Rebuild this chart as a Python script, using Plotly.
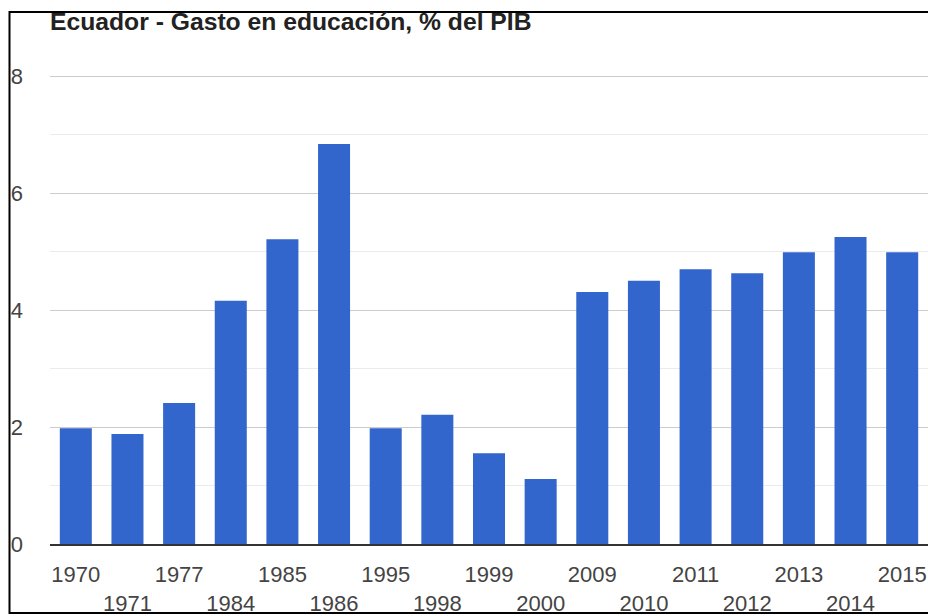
import plotly.graph_objects as go

years = ["1970", "1971", "1977", "1984", "1985", "1986", "1995", "1998", "1999",
         "2000", "2009", "2010", "2011", "2012", "2013", "2014", "2015"]
gasto = [1.98, 1.88, 2.41, 4.16, 5.21, 6.84, 1.98, 2.21, 1.55,
         1.11, 4.31, 4.50, 4.70, 4.63, 4.99, 5.25, 4.99]
y_ticks = [0, 2, 4, 6, 8]

# staggered labels: every second one goes to a second row
tick_text = [y if i % 2 == 0 else "<br>" + y for i, y in enumerate(years)]

W, H = 928, 616
L, R, T, B = 50, 0, 75, 72
pw, ph = W - L - R, H - T - B
y_top = 8.02
font = "Arial, Liberation Sans"

fig = go.Figure(go.Bar(x=years, y=gasto, marker=dict(color="#3366cc", line=dict(width=0))))

fig.update_xaxes(type="category", tickvals=years, ticktext=tick_text, tickangle=0,
                 showgrid=False, showline=True, linecolor="#333333", linewidth=1.5,
                 ticks="", ticklabelstandoff=10,
                 tickfont=dict(family=font, size=22, color="#444444"))
fig.update_yaxes(range=[0, y_top], tickvals=y_ticks, showgrid=True, gridcolor="#cccccc", gridwidth=1,
                 minor=dict(dtick=1, showgrid=True, gridcolor="#ebebeb", gridwidth=1),
                 zeroline=False, showline=False, ticks="", ticklabelstandoff=26,
                 tickfont=dict(family=font, size=22, color="#444444"))

# black frame around the picture (pixel positions turned into paper units)
bottom_px = T + ph
fig.add_shape(type="rect", xref="paper", yref="paper", layer="above",
              x0=(9.5 - L) / pw, x1=1.05,
              y0=-(613 - bottom_px) / ph, y1=(bottom_px - 12) / ph,
              line=dict(color="black", width=2), fillcolor="rgba(0,0,0,0)")

fig.update_layout(
    width=W, height=H,
    margin=dict(l=L, r=R, t=T, b=B),
    bargap=0.38,
    showlegend=False,
    paper_bgcolor="white", plot_bgcolor="white",
    title=dict(text="<b>Ecuador - Gasto en educación, % del PIB</b>",
               x=0, xref="paper", xanchor="left", y=1 - 12.5 / H, yanchor="top", yref="container",
               font=dict(family=font, size=24.7, color="#222222")),
)

fig.write_html("out.html", config={"displayModeBar": False},
               post_script="document.body.style.margin='0';")
